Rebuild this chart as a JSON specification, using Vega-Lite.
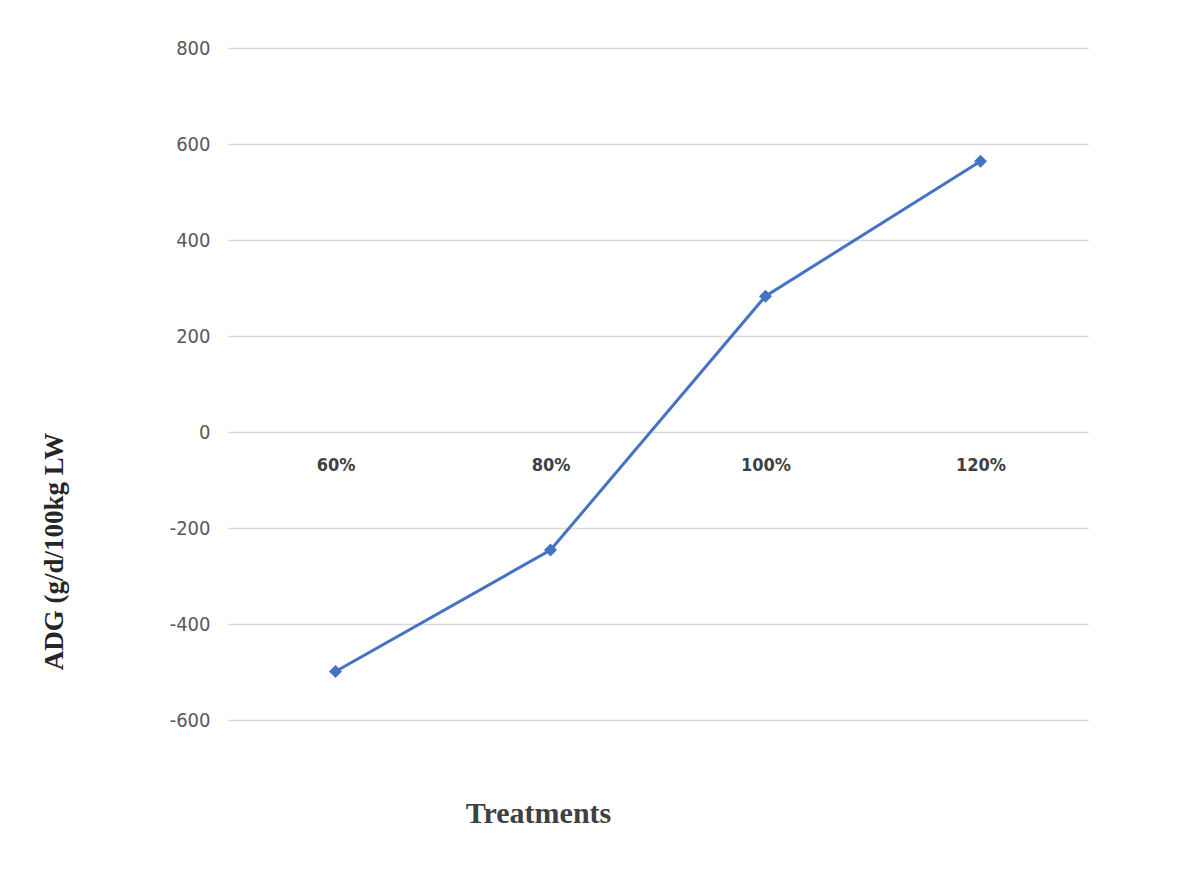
{
  "$schema": "https://vega.github.io/schema/vega-lite/v6.json",
  "autosize": "none",
  "padding": {"left": 228, "top": 48, "right": 95, "bottom": 155},
  "width": 860,
  "height": 672,
  "background": "white",
  "config": {"view": {"stroke": null}},
  "data": {
    "values": [
      {"treatment": "60%", "adg": -499},
      {"treatment": "80%", "adg": -246},
      {"treatment": "100%", "adg": 283},
      {"treatment": "120%", "adg": 564}
    ]
  },
  "mark": {
    "type": "line",
    "color": "#4472c4",
    "strokeWidth": 3,
    "point": {"shape": "diamond", "filled": true, "size": 170, "color": "#4472c4"}
  },
  "encoding": {
    "x": {
      "field": "treatment",
      "type": "ordinal",
      "sort": null,
      "scale": {"type": "point", "padding": 0.5},
      "axis": {
        "title": "Treatments",
        "orient": "bottom",
        "offset": -288,
        "domain": false,
        "ticks": false,
        "grid": false,
        "labelAngle": 0,
        "labelPadding": 24,
        "labelFont": "DejaVu Sans Condensed, sans-serif",
        "labelFontSize": 18,
        "labelFontWeight": "bold",
        "labelColor": "#404040",
        "titleFont": "Liberation Serif, serif",
        "titleFontSize": 30,
        "titleFontWeight": "bold",
        "titleColor": "#404040",
        "titleX": 310,
        "titleY": 390,
        "titleAlign": "center",
        "titleBaseline": "alphabetic"
      }
    },
    "y": {
      "field": "adg",
      "type": "quantitative",
      "scale": {"domain": [-600, 800], "nice": false, "zero": false},
      "axis": {
        "title": "ADG (g/d/100kg LW",
        "values": [-600, -400, -200, 0, 200, 400, 600, 800],
        "labelExpr": "toString(datum.value)",
        "domain": false,
        "ticks": false,
        "grid": true,
        "gridColor": "#d9d9d9",
        "gridWidth": 1.5,
        "labelPadding": 18,
        "labelFont": "DejaVu Sans Condensed, sans-serif",
        "labelFontSize": 20,
        "labelColor": "#595959",
        "titleFont": "Liberation Serif, serif",
        "titleFontSize": 27,
        "titleFontWeight": "bold",
        "titleColor": "#262626",
        "titleAngle": -90,
        "titleX": -166,
        "titleY": 503,
        "titleAlign": "center",
        "titleBaseline": "alphabetic"
      }
    }
  }
}
